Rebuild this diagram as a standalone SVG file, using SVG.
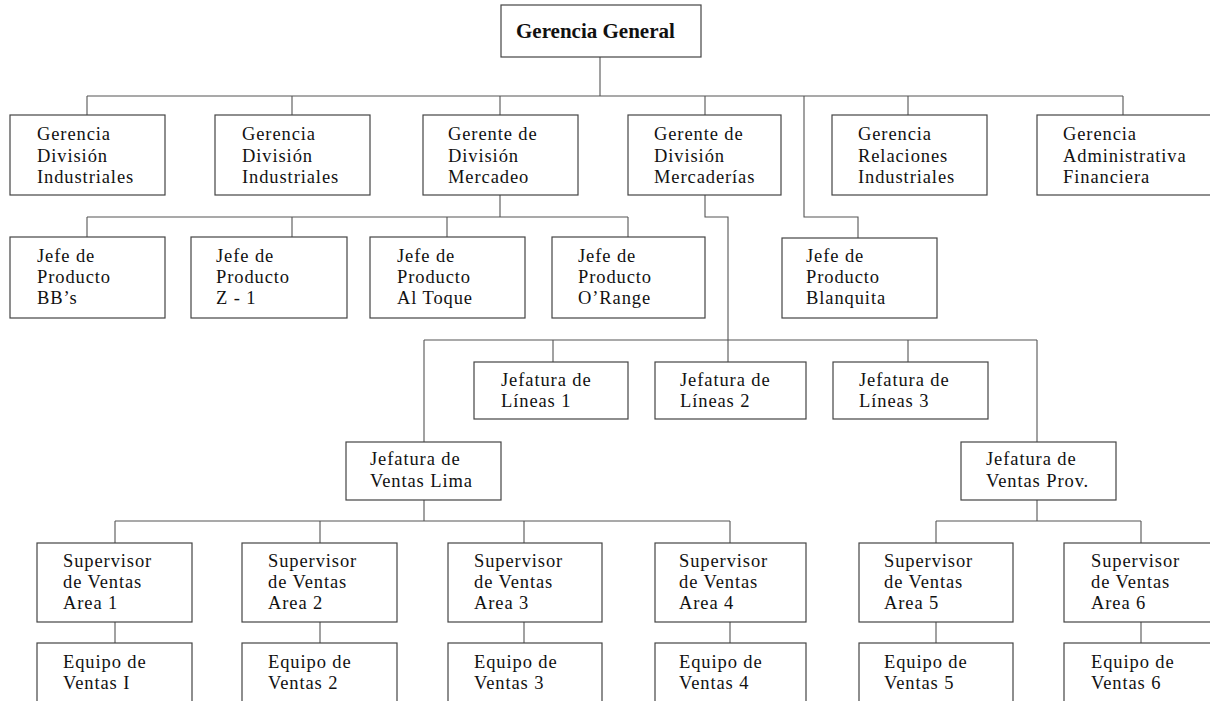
<svg xmlns="http://www.w3.org/2000/svg" width="1210" height="701" viewBox="0 0 1210 701">
<style>
rect{fill:#fff;stroke:#444;stroke-width:1.2}
text{font-family:"Liberation Serif","Times New Roman",serif;font-size:18.5px;letter-spacing:0.9px;fill:#111}
.b{font-weight:bold;font-size:21px;letter-spacing:0}
#conn path{fill:none;stroke:#555;stroke-width:1.1}
</style>
<rect x="0" y="0" width="1210" height="701" style="fill:#fff;stroke:none"/>
<g id="conn">
<path d="M600 57V96M87 96H1123M87 96V115M292 96V115M500 96V115M705 96V115M908 96V115M1123 96V115"/>
<path d="M804 96V217H858V238"/>
<path d="M500 195V217M87 217H628M87 217V237M292 217V237M447 217V237M628 217V237"/>
<path d="M705 195V217H728V362"/>
<path d="M424 340H1037M424 340V442M553 340V362M908 340V362M1037 340V442"/>
<path d="M424 500V521M115 521H730M115 521V543M320 521V543M524 521V543M730 521V543"/>
<path d="M1037 500V521M936 521H1141M936 521V543M1141 521V543"/>
<path d="M115 622V643M320 622V643M524 622V643M730 622V643M936 622V643M1141 622V643"/>
</g>
<g id="n0"><rect x="501" y="5" width="200" height="52"/><text class="b" x="516" y="38">Gerencia General</text></g>
<g id="n1"><rect x="10" y="115" width="155" height="80"/><text x="37" y="140">Gerencia</text><text x="37" y="162">División</text><text x="37" y="183">Industriales</text></g>
<g id="n2"><rect x="215" y="115" width="155" height="80"/><text x="242" y="140">Gerencia</text><text x="242" y="162">División</text><text x="242" y="183">Industriales</text></g>
<g id="n3"><rect x="423" y="115" width="155" height="80"/><text x="448" y="140">Gerente de</text><text x="448" y="162">División</text><text x="448" y="183">Mercadeo</text></g>
<g id="n4"><rect x="628" y="115" width="153" height="80"/><text x="654" y="140">Gerente de</text><text x="654" y="162">División</text><text x="654" y="183">Mercaderías</text></g>
<g id="n5"><rect x="832" y="115" width="155" height="80"/><text x="858" y="140">Gerencia</text><text x="858" y="162">Relaciones</text><text x="858" y="183">Industriales</text></g>
<g id="n6"><rect x="1037" y="115" width="180" height="80"/><text x="1063" y="140">Gerencia</text><text x="1063" y="162">Administrativa</text><text x="1063" y="183">Financiera</text></g>
<g id="n7"><rect x="10" y="237" width="155" height="81"/><text x="37" y="262">Jefe de</text><text x="37" y="283">Producto</text><text x="37" y="304">BB’s</text></g>
<g id="n8"><rect x="191" y="237" width="156" height="81"/><text x="216" y="262">Jefe de</text><text x="216" y="283">Producto</text><text x="216" y="304">Z - 1</text></g>
<g id="n9"><rect x="370" y="237" width="155" height="81"/><text x="397" y="262">Jefe de</text><text x="397" y="283">Producto</text><text x="397" y="304">Al Toque</text></g>
<g id="n10"><rect x="552" y="237" width="153" height="81"/><text x="578" y="262">Jefe de</text><text x="578" y="283">Producto</text><text x="578" y="304">O’Range</text></g>
<g id="n11"><rect x="782" y="238" width="155" height="80"/><text x="806" y="262">Jefe de</text><text x="806" y="283">Producto</text><text x="806" y="304">Blanquita</text></g>
<g id="n12"><rect x="474" y="362" width="154" height="57"/><text x="501" y="386">Jefatura de</text><text x="501" y="407">Líneas 1</text></g>
<g id="n13"><rect x="655" y="362" width="151" height="57"/><text x="680" y="386">Jefatura de</text><text x="680" y="407">Líneas 2</text></g>
<g id="n14"><rect x="833" y="362" width="155" height="57"/><text x="859" y="386">Jefatura de</text><text x="859" y="407">Líneas 3</text></g>
<g id="n15"><rect x="346" y="442" width="155" height="58"/><text x="370" y="465">Jefatura de</text><text x="370" y="487">Ventas Lima</text></g>
<g id="n16"><rect x="961" y="442" width="155" height="58"/><text x="986" y="465">Jefatura de</text><text x="986" y="487">Ventas Prov.</text></g>
<g id="n17"><rect x="37" y="543" width="155" height="79"/><text x="63" y="567">Supervisor</text><text x="63" y="588">de Ventas</text><text x="63" y="609">Area 1</text></g>
<g id="n18"><rect x="242" y="543" width="155" height="79"/><text x="268" y="567">Supervisor</text><text x="268" y="588">de Ventas</text><text x="268" y="609">Area 2</text></g>
<g id="n19"><rect x="448" y="543" width="154" height="79"/><text x="474" y="567">Supervisor</text><text x="474" y="588">de Ventas</text><text x="474" y="609">Area 3</text></g>
<g id="n20"><rect x="655" y="543" width="151" height="79"/><text x="679" y="567">Supervisor</text><text x="679" y="588">de Ventas</text><text x="679" y="609">Area 4</text></g>
<g id="n21"><rect x="859" y="543" width="154" height="79"/><text x="884" y="567">Supervisor</text><text x="884" y="588">de Ventas</text><text x="884" y="609">Area 5</text></g>
<g id="n22"><rect x="1064" y="543" width="154" height="79"/><text x="1091" y="567">Supervisor</text><text x="1091" y="588">de Ventas</text><text x="1091" y="609">Area 6</text></g>
<g id="n23"><rect x="37" y="643" width="155" height="70"/><text x="63" y="668">Equipo de</text><text x="63" y="689">Ventas I</text></g>
<g id="n24"><rect x="242" y="643" width="155" height="70"/><text x="268" y="668">Equipo de</text><text x="268" y="689">Ventas 2</text></g>
<g id="n25"><rect x="448" y="643" width="154" height="70"/><text x="474" y="668">Equipo de</text><text x="474" y="689">Ventas 3</text></g>
<g id="n26"><rect x="655" y="643" width="151" height="70"/><text x="679" y="668">Equipo de</text><text x="679" y="689">Ventas 4</text></g>
<g id="n27"><rect x="859" y="643" width="154" height="70"/><text x="884" y="668">Equipo de</text><text x="884" y="689">Ventas 5</text></g>
<g id="n28"><rect x="1064" y="643" width="154" height="70"/><text x="1091" y="668">Equipo de</text><text x="1091" y="689">Ventas 6</text></g>
</svg>
